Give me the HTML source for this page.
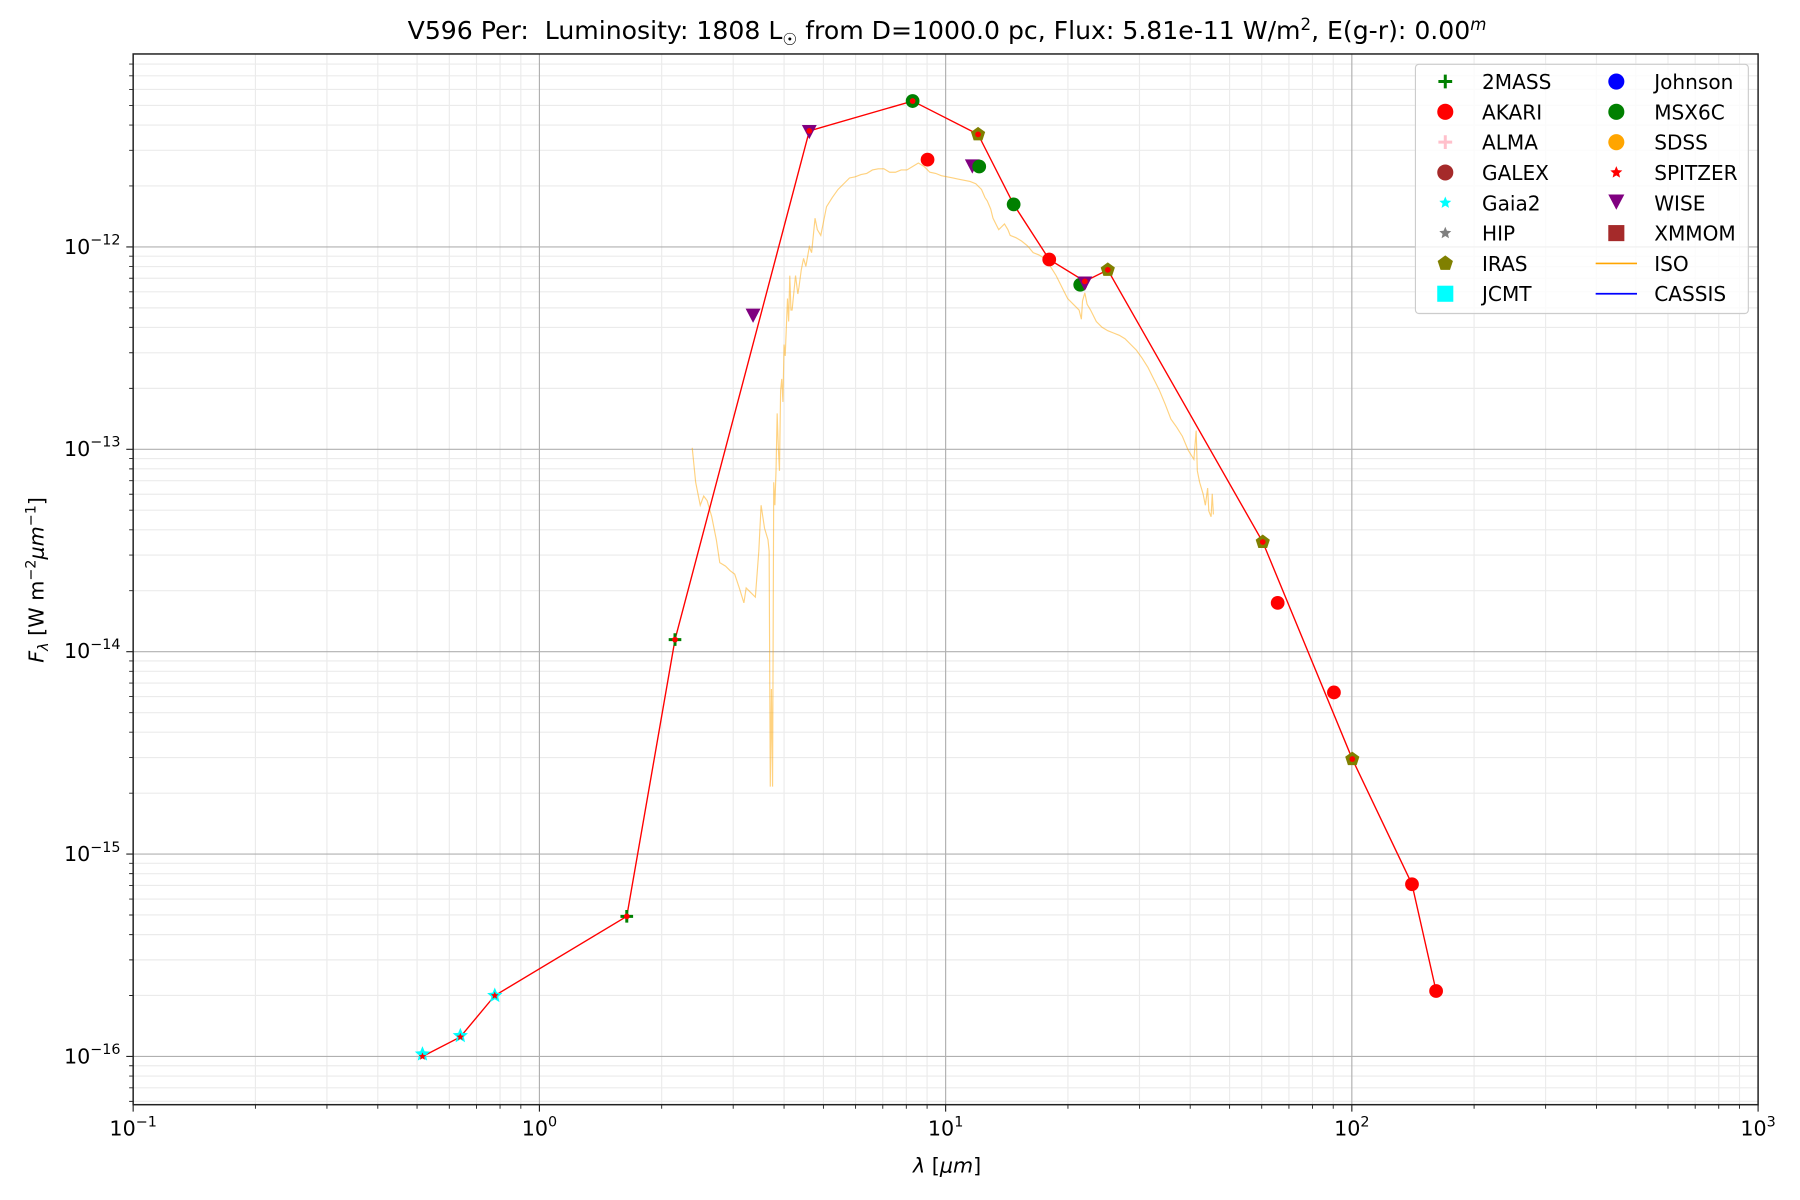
<!DOCTYPE html>
<html><head><meta charset="utf-8"><style>
html,body{margin:0;padding:0;background:#fff;}
svg{display:block;}
text{font-family:"DejaVu Sans","Liberation Sans",sans-serif;fill:#000;}
</style></head><body>
<svg width="1800" height="1200" viewBox="0 0 1568 1045" preserveAspectRatio="none" xmlns="http://www.w3.org/2000/svg" xmlns:xlink="http://www.w3.org/1999/xlink">
<defs>
<polygon id="st" points="0,-1 0.2645,-0.364 0.951,-0.309 0.428,0.139 0.588,0.809 0,0.45 -0.588,0.809 -0.428,0.139 -0.951,-0.309 -0.2645,-0.364"/>
<polygon id="pt" points="0,-1 0.951,-0.309 0.588,0.809 -0.588,0.809 -0.951,-0.309"/>
<polygon id="tr" points="-1,-0.8 1,-0.8 0,1.1"/>
</defs>
<rect width="1568" height="1045" fill="#fff"/>
<path fill="none" stroke="#ebebeb" stroke-width="1" d="
M222.5 47V962M284.8 47V962M329.1 47V962M363.3 47V962M391.4 47V962M415.1 47V962M435.6 47V962M453.7 47V962
M576.4 47V962M638.7 47V962M683 47V962M717.3 47V962M745.3 47V962M769 47V962M789.5 47V962M807.6 47V962
M930.3 47V962M992.6 47V962M1036.8 47V962M1071.1 47V962M1099.1 47V962M1122.8 47V962M1143.3 47V962M1161.4 47V962
M1284.1 47V962M1346.4 47V962M1390.7 47V962M1425 47V962M1453 47V962M1476.7 47V962M1497.2 47V962M1515.3 47V962
M116 161.9H1531.5M116 130.9H1531.5M116 108.9H1531.5M116 91.8H1531.5M116 77.9H1531.5M116 66H1531.5M116 55.8H1531.5
M116 338.2H1531.5M116 307.2H1531.5M116 285.1H1531.5M116 268.1H1531.5M116 254.1H1531.5M116 242.3H1531.5M116 232.1H1531.5M116 223.1H1531.5
M116 514.4H1531.5M116 483.4H1531.5M116 461.4H1531.5M116 444.3H1531.5M116 430.4H1531.5M116 418.6H1531.5M116 408.3H1531.5M116 399.3H1531.5
M116 690.7H1531.5M116 659.7H1531.5M116 637.6H1531.5M116 620.6H1531.5M116 606.6H1531.5M116 594.8H1531.5M116 584.6H1531.5M116 575.6H1531.5
M116 866.9H1531.5M116 835.9H1531.5M116 813.9H1531.5M116 796.8H1531.5M116 782.9H1531.5M116 771.1H1531.5M116 760.8H1531.5M116 751.8H1531.5
M116 959.1H1531.5M116 947.3H1531.5M116 937.1H1531.5M116 928.1H1531.5"/>
<path fill="none" stroke="#b0b0b0" stroke-width="1" d="M469.9 47V962M823.75 47V962M1177.6 47V962M116 215H1531.5M116 391.25H1531.5M116 567.5H1531.5M116 743.75H1531.5M116 920H1531.5"/>
<path fill="none" stroke="#222" stroke-width="0.8" d="
M222.5 962v3.5M284.8 962v3.5M329.1 962v3.5M363.3 962v3.5M391.4 962v3.5M415.1 962v3.5M435.6 962v3.5M453.7 962v3.5
M576.4 962v3.5M638.7 962v3.5M683 962v3.5M717.3 962v3.5M745.3 962v3.5M769 962v3.5M789.5 962v3.5M807.6 962v3.5
M930.3 962v3.5M992.6 962v3.5M1036.8 962v3.5M1071.1 962v3.5M1099.1 962v3.5M1122.8 962v3.5M1143.3 962v3.5M1161.4 962v3.5
M1284.1 962v3.5M1346.4 962v3.5M1390.7 962v3.5M1425 962v3.5M1453 962v3.5M1476.7 962v3.5M1497.2 962v3.5M1515.3 962v3.5
M112.5 161.9h3.5M112.5 130.9h3.5M112.5 108.9h3.5M112.5 91.8h3.5M112.5 77.9h3.5M112.5 66h3.5M112.5 55.8h3.5
M112.5 338.2h3.5M112.5 307.2h3.5M112.5 285.1h3.5M112.5 268.1h3.5M112.5 254.1h3.5M112.5 242.3h3.5M112.5 232.1h3.5M112.5 223.1h3.5
M112.5 514.4h3.5M112.5 483.4h3.5M112.5 461.4h3.5M112.5 444.3h3.5M112.5 430.4h3.5M112.5 418.6h3.5M112.5 408.3h3.5M112.5 399.3h3.5
M112.5 690.7h3.5M112.5 659.7h3.5M112.5 637.6h3.5M112.5 620.6h3.5M112.5 606.6h3.5M112.5 594.8h3.5M112.5 584.6h3.5M112.5 575.6h3.5
M112.5 866.9h3.5M112.5 835.9h3.5M112.5 813.9h3.5M112.5 796.8h3.5M112.5 782.9h3.5M112.5 771.1h3.5M112.5 760.8h3.5M112.5 751.8h3.5
M112.5 959.1h3.5M112.5 947.3h3.5M112.5 937.1h3.5M112.5 928.1h3.5"/>
<path fill="none" stroke="#222" stroke-width="1" d="M116 962v6M469.9 962v6M823.75 962v6M1177.6 962v6M1531.5 962v6M110 215h6M110 391.25h6M110 567.5h6M110 743.75h6M110 920h6"/>
<g font-size="18" text-anchor="middle">
<text x="116" y="989">10<tspan font-size="12.5" dy="-8">−1</tspan></text>
<text x="469.9" y="989">10<tspan font-size="12.5" dy="-8">0</tspan></text>
<text x="823.75" y="989">10<tspan font-size="12.5" dy="-8">1</tspan></text>
<text x="1177.6" y="989">10<tspan font-size="12.5" dy="-8">2</tspan></text>
<text x="1531.5" y="989">10<tspan font-size="12.5" dy="-8">3</tspan></text>
</g>
<g font-size="18" text-anchor="end">
<text x="105" y="221">10<tspan font-size="12.5" dy="-8">−12</tspan></text>
<text x="105" y="397">10<tspan font-size="12.5" dy="-8">−13</tspan></text>
<text x="105" y="573">10<tspan font-size="12.5" dy="-8">−14</tspan></text>
<text x="105" y="750">10<tspan font-size="12.5" dy="-8">−15</tspan></text>
<text x="105" y="926">10<tspan font-size="12.5" dy="-8">−16</tspan></text>
</g>
<polyline fill="none" stroke="#ffa500" stroke-opacity="0.5" stroke-width="1" points="603,390 606,420 610,440 613,432 616,436 620,450 624,470 627,490 632,493 636,497 640,500 644,512 648,525 650,512 654,516 658,520 661,480 663,440 666,460 669,470 670,480 671,685 672,600 673,685 674,420 675,440 676,410 677,360 678,390 679,410 680,340 681,330 682,350 683,300 684,310 686,260 687,280 688,240 689,270 690,270 692,250 693,240 695,256 696,250 698,235 700,225 702,232 705,215 707,220 710,190 712,200 715,205 718,190 720,180 725,172 730,165 735,160 740,155 745,154 750,152 755,151 760,148 765,147 770,147 775,150 780,150 785,148 790,148 795,145 800,142 805,145 810,150 815,151 820,153 825,154 830,155 835,156 840,157 845,158 850,160 855,165 858,172 860,175 863,182 865,190 868,196 870,200 872,198 875,195 878,200 880,205 885,207 890,210 895,214 900,220 905,222 910,225 915,232 920,240 925,250 930,260 935,265 940,270 942,278 943,262 945,255 947,265 950,270 955,280 960,285 965,288 970,290 975,292 980,295 985,300 990,305 995,312 1000,320 1005,330 1010,340 1015,352 1020,365 1025,372 1030,380 1035,392 1040,400 1042,375 1043,410 1045,420 1048,430 1050,440 1052,425 1053,445 1055,450 1056,430 1057,448"/>
<polyline fill="none" stroke="#ff0000" stroke-width="1.2" points="368,920 401,903 431,867 546,798 588,557 705,114 795,88 852,117 883,178 914,226 945,245 965,235 1100,472 1178,661 1230,770 1251,863"/>
<g fill="#00ffff">
<use xlink:href="#st" transform="translate(368,918) scale(7)"/>
<use xlink:href="#st" transform="translate(401,902) scale(7)"/>
<use xlink:href="#st" transform="translate(431,867) scale(7)"/>
</g>
<g fill="#ff0000">
<use xlink:href="#st" transform="translate(368,920) scale(3.5)"/>
<use xlink:href="#st" transform="translate(401,903) scale(3.5)"/>
<use xlink:href="#st" transform="translate(431,867) scale(3.5)"/>
</g>
<path stroke="#008000" stroke-width="2.6" fill="none" d="M540.5 798h11M546 792.5v11M582.5 557h11M588 551.5v11"/>
<g fill="#800080">
<use xlink:href="#tr" transform="translate(705,114) scale(6.5)"/>
<use xlink:href="#tr" transform="translate(656,274) scale(6.5)"/>
<use xlink:href="#tr" transform="translate(847,144) scale(6.5)"/>
</g>
<g fill="#008000">
<circle cx="795" cy="88" r="6"/><circle cx="853" cy="145" r="6"/><circle cx="883" cy="178" r="6"/><circle cx="941" cy="248" r="6"/>
</g>
<use xlink:href="#tr" fill="#800080" transform="translate(945,246) scale(6.5)"/>
<g fill="#ff0000">
<circle cx="808" cy="139" r="6"/><circle cx="914" cy="226" r="6"/><circle cx="1113" cy="525" r="6"/><circle cx="1162" cy="603" r="6"/><circle cx="1230" cy="770" r="6"/><circle cx="1251" cy="863" r="6"/>
</g>
<g fill="#808000">
<use xlink:href="#pt" transform="translate(852,117) scale(6.5)"/>
<use xlink:href="#pt" transform="translate(965,235) scale(6.5)"/>
<use xlink:href="#pt" transform="translate(1100,472) scale(6.5)"/>
<use xlink:href="#pt" transform="translate(1178,661) scale(6.5)"/>
</g>
<g fill="#ff0000">
<circle cx="546" cy="798" r="2.5"/><circle cx="588" cy="557" r="2.5"/><circle cx="705" cy="114" r="2.5"/><circle cx="795" cy="88" r="2.5"/><circle cx="852" cy="117" r="2.5"/><circle cx="945" cy="245" r="2.5"/><circle cx="965" cy="235" r="2.5"/><circle cx="1100" cy="472" r="2.5"/><circle cx="1178" cy="661" r="2.5"/>
</g>
<rect x="116" y="47" width="1415.5" height="915" fill="none" stroke="#222" stroke-width="1.3"/>
<text x="825" y="34" font-size="21.9" text-anchor="middle" xml:space="preserve">V596 Per:  Luminosity: 1808 L<tspan font-size="14.5" dy="5">☉</tspan><tspan dy="-5"> from D=1000.0 pc, Flux: 5.81e-11 W/m</tspan><tspan font-size="14.5" dy="-8">2</tspan><tspan dy="8">, E(g-r): 0.00</tspan><tspan font-size="14.5" dy="-8" font-style="italic">m</tspan></text>
<text x="825" y="1021" font-size="18" text-anchor="middle"><tspan font-style="italic">λ</tspan> [<tspan font-style="italic">μm</tspan>]</text>
<text transform="translate(38,505) rotate(-90)" font-size="18" text-anchor="middle"><tspan font-style="italic">F</tspan><tspan font-size="12.5" dy="4" font-style="italic">λ</tspan><tspan dy="-4"> [W m</tspan><tspan font-size="12.5" dy="-7">−2</tspan><tspan dy="7" font-style="italic">μm</tspan><tspan font-size="12.5" dy="-7">−1</tspan><tspan dy="7">]</tspan></text>
<rect x="1233" y="56" width="290" height="217" rx="3" fill="#fff" fill-opacity="0.8" stroke="#ccc" stroke-width="1"/>
<path stroke="#008000" stroke-width="2.6" fill="none" d="M1253 71h12M1259 65v12"/>
<circle cx="1259" cy="97.4" r="7" fill="#ff0000"/>
<path stroke="#ffc0cb" stroke-width="2.6" fill="none" d="M1253 123.8h12M1259 117.8v12"/>
<circle cx="1259" cy="150.2" r="7" fill="#a52a2a"/>
<use xlink:href="#st" fill="#00ffff" transform="translate(1259,176.6) scale(5.5)"/>
<use xlink:href="#st" fill="#808080" transform="translate(1259,203) scale(5.5)"/>
<use xlink:href="#pt" fill="#808000" transform="translate(1259,229.4) scale(7)"/>
<rect x="1252" y="248.8" width="14" height="14" fill="#00ffff"/>
<circle cx="1408" cy="71" r="7" fill="#0000ff"/>
<circle cx="1408" cy="97.4" r="7" fill="#008000"/>
<circle cx="1408" cy="123.8" r="7" fill="#ffa500"/>
<use xlink:href="#st" fill="#ff0000" transform="translate(1408,150.2) scale(5.5)"/>
<use xlink:href="#tr" fill="#800080" transform="translate(1408,175) scale(7)"/>
<rect x="1401" y="196" width="14" height="14" fill="#a52a2a"/>
<line x1="1390" x2="1426" y1="229.4" y2="229.4" stroke="#ffa500" stroke-width="1.5"/>
<line x1="1390" x2="1426" y1="255.8" y2="255.8" stroke="#0000ff" stroke-width="1.5"/>
<g font-size="17.5">
<text x="1291" y="77.5">2MASS</text>
<text x="1291" y="103.9">AKARI</text>
<text x="1291" y="130.3">ALMA</text>
<text x="1291" y="156.7">GALEX</text>
<text x="1291" y="183.1">Gaia2</text>
<text x="1291" y="209.5">HIP</text>
<text x="1291" y="235.9">IRAS</text>
<text x="1291" y="262.3">JCMT</text>
<text x="1441" y="77.5">Johnson</text>
<text x="1441" y="103.9">MSX6C</text>
<text x="1441" y="130.3">SDSS</text>
<text x="1441" y="156.7">SPITZER</text>
<text x="1441" y="183.1">WISE</text>
<text x="1441" y="209.5">XMMOM</text>
<text x="1441" y="235.9">ISO</text>
<text x="1441" y="262.3">CASSIS</text>
</g>
</svg>
</body></html>
